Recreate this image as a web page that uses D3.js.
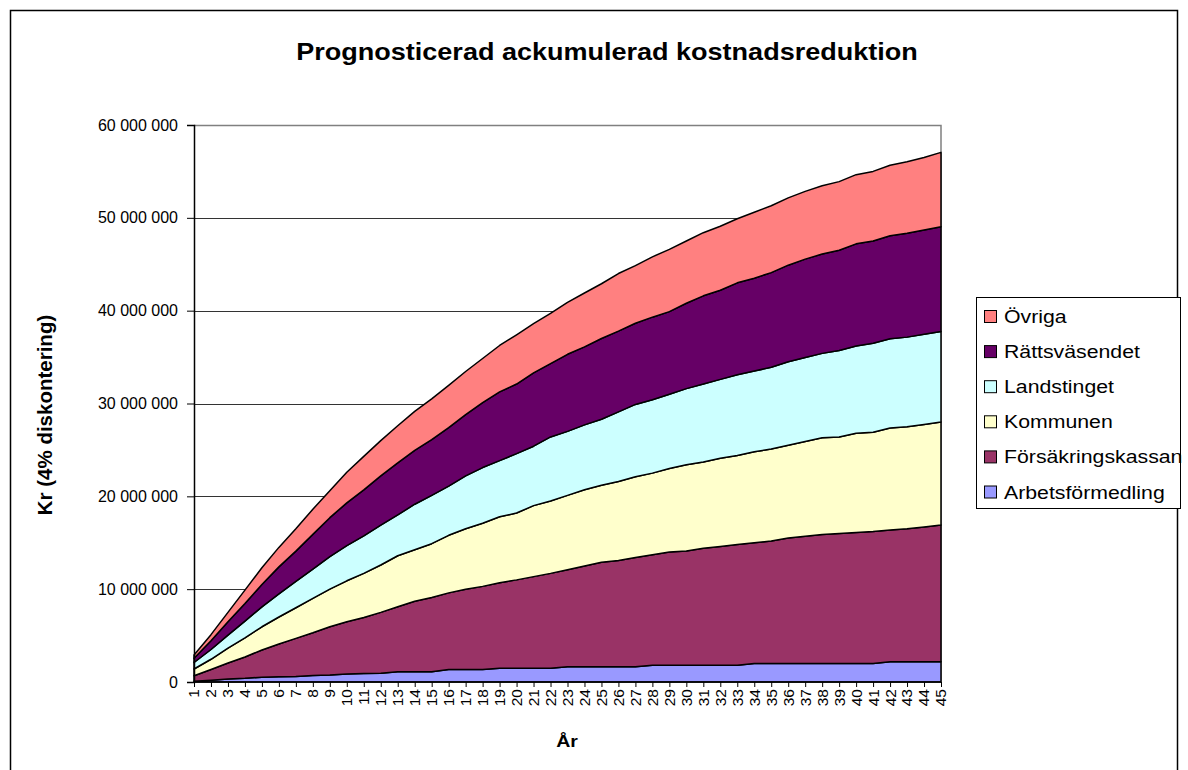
<!DOCTYPE html>
<html><head><meta charset="utf-8">
<script src="https://cdn.jsdelivr.net/npm/d3@7"></script>
<style>body{margin:0;background:#fff}svg{display:block}text{font-family:Arial,"Liberation Sans",sans-serif;fill:#000}</style>
</head><body><svg id="c" width="1188" height="770"></svg>
<script>
// Values in millions of kronor
const years = ["1","2","3","4","5","6","7","8","9","10","11","12","13","14","15","16","17","18","19","20","21","22","23","24","25","26","27","28","29","30","31","32","33","34","35","36","37","38","39","40","41","42","43","44","45"];
const arbetsformedling = [0.08,0.2,0.33,0.4,0.52,0.57,0.58,0.7,0.75,0.85,0.92,0.93,1.1,1.1,1.1,1.35,1.35,1.35,1.47,1.47,1.47,1.47,1.63,1.63,1.63,1.63,1.63,1.8,1.8,1.8,1.8,1.8,1.8,2.0,2.0,2.0,2.0,2.0,2.0,2.0,2.0,2.17,2.17,2.17,2.17];
const forsakringskassan = [0.60,1.15,1.72,2.30,2.93,3.53,4.12,4.60,5.20,5.65,6.03,6.57,7.0,7.6,8.0,8.25,8.65,8.95,9.23,9.53,9.88,10.23,10.47,10.87,11.27,11.47,11.77,11.9,12.2,12.3,12.6,12.8,13.0,13.0,13.2,13.5,13.7,13.9,14.0,14.1,14.2,14.2,14.33,14.53,14.73];
const kommunen = [0.72,1.10,1.60,2.05,2.50,2.90,3.30,3.70,4.05,4.40,4.75,5.10,5.5,5.55,5.8,6.2,6.5,6.8,7.1,7.2,7.65,7.8,8.0,8.2,8.3,8.5,8.7,8.8,9.0,9.3,9.3,9.5,9.6,9.8,9.9,10.0,10.2,10.4,10.4,10.7,10.7,11.0,11.0,11.05,11.1];
const landstinget = [0.70,1.05,1.40,1.80,2.15,2.50,2.85,3.15,3.50,3.80,4.05,4.30,4.4,4.9,5.2,5.3,5.7,6.0,6.05,6.4,6.4,6.9,6.9,7.0,7.1,7.5,7.8,7.9,8.0,8.2,8.4,8.5,8.7,8.7,8.8,9.0,9.05,9.1,9.3,9.4,9.6,9.6,9.65,9.7,9.75];
const rattsvasendet = [0.45,0.95,1.45,1.90,2.40,2.90,3.25,3.75,4.20,4.60,4.95,5.30,5.6,5.8,6.0,6.3,6.6,7.0,7.4,7.5,7.9,7.9,8.3,8.4,8.7,8.7,8.75,8.9,8.9,9.2,9.5,9.6,9.9,10.0,10.2,10.4,10.6,10.7,10.8,11.0,11.0,11.1,11.2,11.25,11.3];
const ovriga = [0.35,0.65,1.0,1.45,1.80,2.10,2.40,2.70,2.90,3.30,3.60,3.80,4.0,4.2,4.4,4.55,4.65,4.75,5.0,5.3,5.3,5.4,5.6,5.8,5.9,6.2,6.2,6.5,6.7,6.7,6.8,6.9,6.9,7.1,7.2,7.25,7.3,7.35,7.4,7.45,7.5,7.6,7.7,7.8,8.0];
const UNIT = 1e6;
const seriesNames = ["Arbetsförmedling","Försäkringskassan","Kommunen","Landstinget","Rättsväsendet","Övriga"];
const seriesData = [arbetsformedling, forsakringskassan, kommunen, landstinget, rattsvasendet, ovriga];
const seriesColors = ["#9999FF","#993366","#FFFFCC","#CCFFFF","#660066","#FF8080"];
const yTicks = [0,10e6,20e6,30e6,40e6,50e6,60e6];
const title = "Prognosticerad ackumulerad kostnadsreduktion";
const xTitle = "År", yTitle = "Kr (4% diskontering)";

const SX = 1.15; // horizontal text stretch for title and legend
const svg = d3.select("#c");
const L = 194, R = 941, T = 125, B = 682;
const x = d3.scalePoint().domain(years).range([L, R]);
const y = d3.scaleLinear().domain([0, 60e6]).range([B, T]);

// outer border
svg.append("rect").attr("x",10.5).attr("y",10.5).attr("width",1167).attr("height",780)
  .attr("fill","#fff").attr("stroke","#000").attr("stroke-width",1.5);

// title
svg.append("text").attr("transform",`translate(607,60) scale(${SX},1)`).attr("text-anchor","middle")
  .attr("font-weight","bold").attr("font-size",23.5).text(title);

// gridlines
svg.append("g").selectAll("line").data(yTicks.filter(d=>d>0 && d<60e6)).join("line")
  .attr("x1",L).attr("x2",R).attr("y1",d=>Math.round(y(d))+0.5).attr("y2",d=>Math.round(y(d))+0.5)
  .attr("stroke","#333").attr("stroke-width",1);
// plot frame top/right
svg.append("path").attr("d",`M${L},${T+0.5}H${R}V${B}`).attr("fill","none").attr("stroke","#808080").attr("stroke-width",1.5);

// stacked areas
const table = years.map((yr,i)=>{const o={year:yr}; seriesNames.forEach((n,k)=>o[n]=seriesData[k][i]*UNIT); return o;});
const stacked = d3.stack().keys(seriesNames)(table);
const area = d3.area().x(d=>x(d.data.year)).y0(d=>y(d[0])).y1(d=>y(d[1]));
svg.append("g").selectAll("path").data(stacked).join("path")
  .attr("d",area).attr("fill",(d,i)=>seriesColors[i]).attr("stroke","#000").attr("stroke-width",1.5).attr("stroke-linejoin","round");

// axes
const yAxis = d3.axisLeft(y).tickValues(yTicks).tickSize(7).tickPadding(9)
  .tickFormat(d=>d3.format(",")(d).replace(/,/g," "));
const gy = svg.append("g").attr("transform",`translate(${L},0)`).call(yAxis);
gy.select(".domain").attr("stroke","#000").attr("stroke-width",1.5);
gy.selectAll(".tick line").attr("stroke","#000");
gy.selectAll(".tick text").attr("font-size",16).attr("font-family",null).attr("fill","#000");

const xAxis = d3.axisBottom(x).tickSize(5).tickFormat(()=>"");
const gx = svg.append("g").attr("transform",`translate(0,${B})`).call(xAxis);
gx.select(".domain").attr("stroke","#000").attr("stroke-width",1.5).attr("d",`M${L},0H${R}`);
gx.selectAll(".tick line").attr("stroke","#000");
svg.append("g").selectAll("text").data(years).join("text")
  .attr("transform",d=>`translate(${x(d)},${B+7}) rotate(-90)`)
  .attr("text-anchor","end").attr("dy","0.35em").attr("font-size",15.5).text(d=>d);

// axis titles
svg.append("text").attr("transform",`translate(567,747) scale(${SX},1)`).attr("text-anchor","middle")
  .attr("font-weight","bold").attr("font-size",17).text(xTitle);
svg.append("text").attr("transform",`translate(52,415) rotate(-90)`).attr("text-anchor","middle")
  .attr("font-weight","bold").attr("font-size",20.5).text(yTitle);

// legend
const lg = svg.append("g");
lg.append("rect").attr("x",976.5).attr("y",297.5).attr("width",204).attr("height",211)
  .attr("fill","#fff").attr("stroke","#000").attr("stroke-width",1);
const order = [5,4,3,2,1,0];
order.forEach((k,j)=>{
  const cy = 316 + j*35.1;
  lg.append("rect").attr("x",984.5).attr("y",cy-5.5).attr("width",12).attr("height",12)
    .attr("fill",seriesColors[k]).attr("stroke","#000").attr("stroke-width",1);
  lg.append("text").attr("transform",`translate(1004,${cy+7}) scale(${SX},1)`).attr("font-size",18.5).text(seriesNames[k]);
});
</script></body></html>
